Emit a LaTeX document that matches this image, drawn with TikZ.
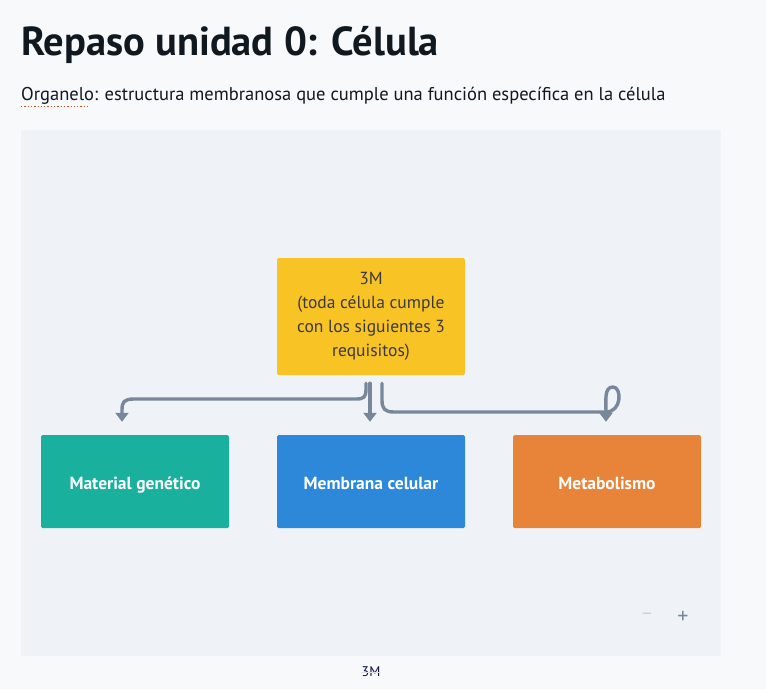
\documentclass[tikz,border=0pt]{standalone}
\usepackage{fontspec}
\setmainfont{PT Sans}
\usetikzlibrary{arrows.meta}
\definecolor{pagebg}{HTML}{F7F9FB}
\definecolor{panelbg}{HTML}{EFF3F7}
\definecolor{titlecol}{HTML}{101820}
\definecolor{yellowbox}{HTML}{F8C325}
\definecolor{greenbox}{HTML}{1AB09E}
\definecolor{bluebox}{HTML}{2D88D9}
\definecolor{orangebox}{HTML}{E8833A}
\definecolor{linkcol}{HTML}{78889A}
\definecolor{boxtext}{HTML}{3A3A3A}
\definecolor{dotcol}{HTML}{C0561E}
\tikzset{
  card/.style={rectangle, rounded corners=1.5pt, minimum width=188pt, inner sep=0pt, align=center},
  leaf/.style={card, minimum height=93pt, text height=18pt, text depth=3pt, text=white, font=\fontsize{17.5}{20}\selectfont\bfseries},
  conn/.style={draw=linkcol, line width=3.4pt, -{Triangle[width=13pt,length=9pt]}, line cap=round, line join=round},
}
\begin{document}
\begin{tikzpicture}[x=1pt, y=-1pt]
\fill[pagebg] (0,0) rectangle (766,689);
\useasboundingbox (0,0) rectangle (766,689);
\fill[panelbg] (21,130) rectangle (721,656);
\node[anchor=base west, inner sep=0pt, text=titlecol, font=\fontsize{40.5}{44}\selectfont\bfseries] (title) at (21,55) {Repaso unidad 0: Célula};
\node[anchor=base west, inner sep=0pt, text=titlecol, font=\fontsize{18.5}{20}\selectfont] (sub) at (21,100) {Organelo: estructura membranosa que cumple una función específica en la célula};
\draw[dotcol, line width=1.3pt, dash pattern=on 1.3pt off 2pt] (21,106.5) -- (88,106.5);
\node[card, fill=yellowbox, minimum height=117pt, text=boxtext, font=\fontsize{17.5}{24}\selectfont] (top) at (371,316.5) {3M\\(toda célula cumple\\con los siguientes 3\\requisitos)};
\node[leaf, fill=greenbox] (mat) at (135,481.5) {Material genético};
\node[leaf, fill=bluebox] (mem) at (371,481.5) {Membrana celular};
\node[leaf, fill=orangebox] (met) at (607,481.5) {Metabolismo};
\coordinate (lstart) at ([xshift=-5pt,yshift=-8pt]top.south);
\coordinate (mstart) at ([xshift=-1pt,yshift=-8pt]top.south);
\coordinate (rstart) at ([xshift=11pt,yshift=-8pt]top.south);
\draw[conn] (lstart) -- (366,389) .. controls (366,397) and (364,399) .. (356,399) -- (134,399) .. controls (124,399) and (122,402) .. (122,410) -- ([xshift=-13pt,yshift=13pt]mat.north);
\draw[conn] (mstart) -- ([xshift=-1pt,yshift=13pt]mem.north);
\draw[conn] (rstart) -- (382,400) .. controls (382,409) and (385,412) .. (394,412) -- (606,412) .. controls (622,412) and (622,387) .. (613,387) .. controls (604,387) and (606,400) .. ([xshift=-1pt,yshift=13pt]met.north);
\node[text=panelbg!70!gray, font=\fontsize{20}{20}\selectfont] (minus) at (647,617) {−};
\node[text=linkcol, font=\fontsize{22}{22}\selectfont] (plus) at (683,617) {+};
\node[anchor=base, inner sep=0pt, text=titlecol!80!blue, font=\fontsize{14}{16}\selectfont] (cap) at (371,676) {3M};
\draw[panelbg!85!gray, line width=1pt] ([yshift=4pt]cap.south west) -- ([yshift=4pt]cap.south east);
\end{tikzpicture}
\end{document}
